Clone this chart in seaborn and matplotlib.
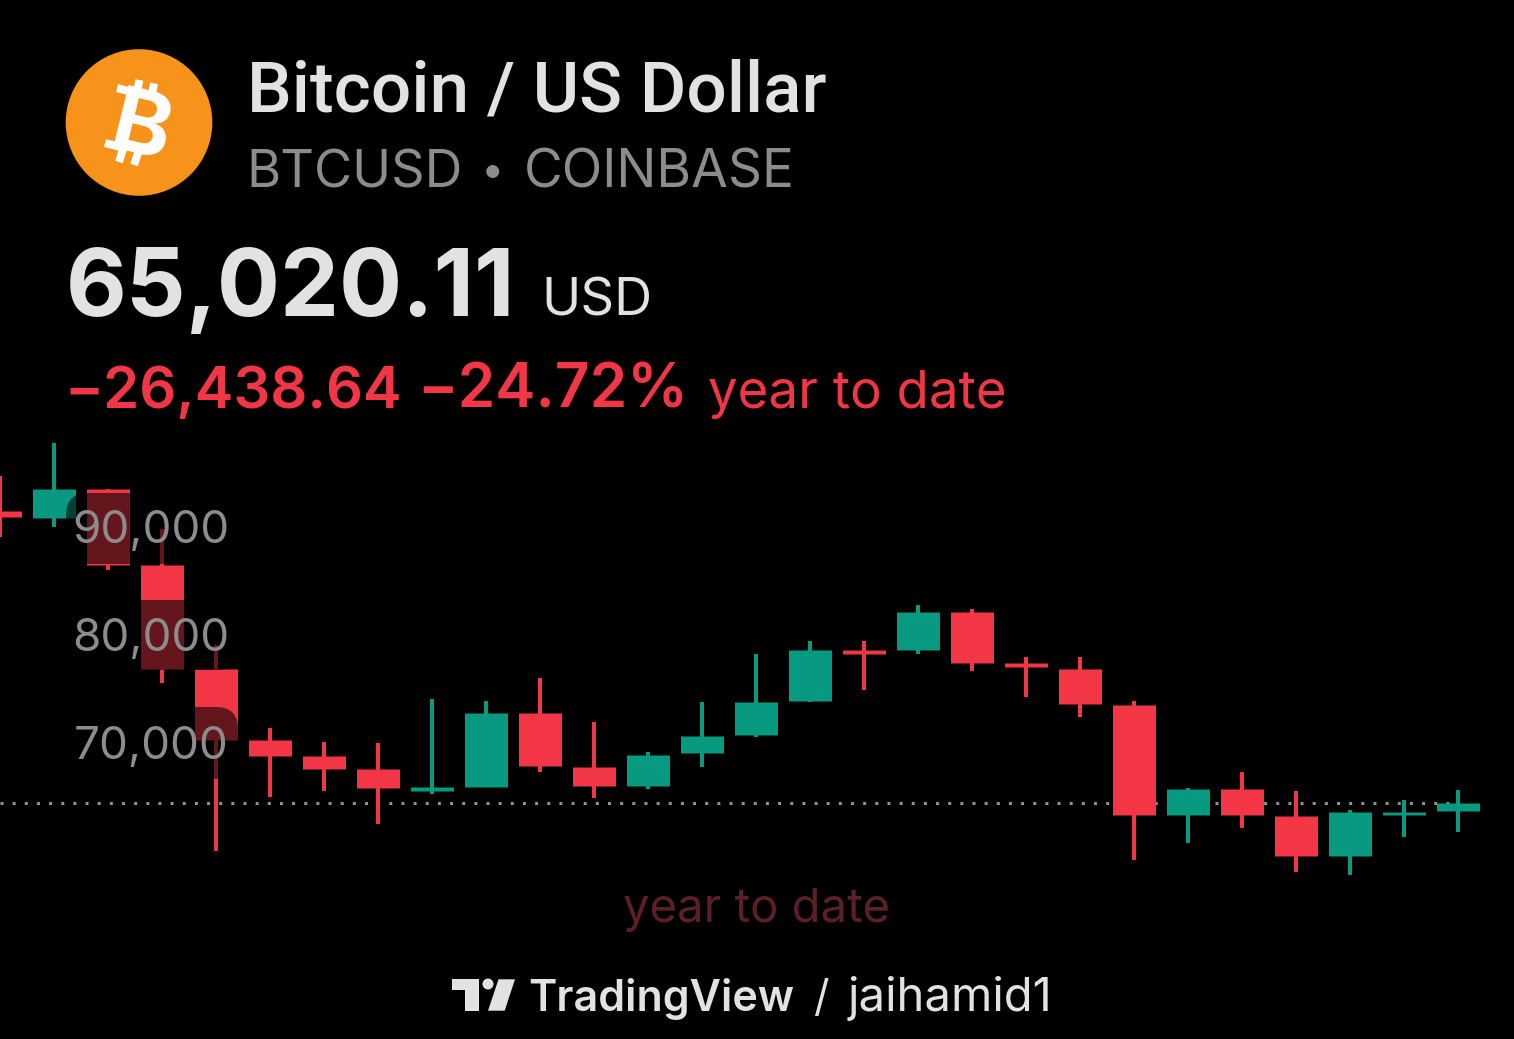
import matplotlib
matplotlib.use("Agg")
import matplotlib.pyplot as plt
from matplotlib.patches import Circle, FancyBboxPatch, Polygon
from matplotlib.transforms import ScaledTranslation
import numpy as np
import pandas as pd
import seaborn as sns

# Weekly BTCUSD candles
opens = [92060, 91410, 94090, 87060, 77430, 70850, 69370, 68170, 66130, 66500,
         73350, 68350, 66590, 69650, 71320, 74460, 79190, 79190, 82700, 77980,
         77430, 74090, 63910, 66320, 63820, 60110, 63910, 64280]
closes = [91500, 94090, 87060, 77430, 70850, 69370, 68170, 66410, 66500, 73350,
          68450, 66590, 69460, 71220, 74370, 79190, 78820, 82700, 77980, 77610,
          74190, 63910, 66320, 63910, 60110, 64190, 64190, 65020.11]
highs = [95300, 98350, 94090, 90390, 79650, 71960, 70670, 70580, 74650, 74460,
         76590, 72520, 69740, 74370, 78820, 80020, 80020, 83350, 82980, 78540,
         78540, 74460, 66410, 67890, 66130, 64370, 65300, 66220]
lows = [89650, 90575, 86590, 76130, 60580, 65580, 66130, 63080, 65850, 66500,
        67890, 65480, 66320, 68350, 71130, 74370, 75480, 78820, 77240, 74830,
        72980, 59740, 61320, 62710, 58630, 58350, 61870, 62340]
price_ticks = [70000, 80000, 90000]
last_price = 65020.11

UP = "#089981"
DOWN = "#f23645"
W, H = 1514, 1039
PX = 1 / 0.72  # pixels per point at 100 dpi

sns.set_theme(style="dark", rc={"axes.facecolor": "black", "figure.facecolor": "black"})
plt.rcParams["font.family"] = ["Inter", "DejaVu Sans"]

frame = pd.DataFrame({"open": opens, "close": closes, "high": highs, "low": lows})
frame["candle"] = frame.index
frame["side"] = np.where(frame["close"] >= frame["open"], "up", "down")
wicks = frame.melt(id_vars=["candle", "side"], value_vars=["high", "low"], value_name="price")
bodies = frame.melt(id_vars=["candle", "side"], value_vars=["open", "close"], value_name="price")
palette = {"up": UP, "down": DOWN}

fig = plt.figure(figsize=(W / 100, H / 100), dpi=100)
ax = fig.add_axes([0, 0, 1, 1])
page = fig.add_axes([0, 0, 1, 1], zorder=5)
page.set_xlim(0, W)
page.set_ylim(H, 0)
page.axis("off")
page.patch.set_alpha(0)

ax.hlines(last_price, 0, len(closes) - 1, color="#929292", lw=3 / PX,
          linestyle=(0, (1, 3.05)), zorder=1)
sns.lineplot(data=wicks, x="candle", y="price", hue="side", units="candle", estimator=None,
             palette=palette, linewidth=4 / PX, solid_capstyle="butt", legend=False,
             sort=False, ax=ax, zorder=2)
sns.lineplot(data=bodies, x="candle", y="price", hue="side", units="candle", estimator=None,
             palette=palette, linewidth=43 / PX, solid_capstyle="butt", legend=False,
             sort=False, ax=ax, zorder=2)

# Scales: one candle slot is 54 px, 10,000 USD is 108 px
per_px = 10000 / 108
ax.set_xlim(0, W / 54)
ax.set_ylim(last_price - (H - 803) * per_px, last_price + 803 * per_px)
ax.set(xlabel="", ylabel="", xticks=[])
ax.grid(False)
for s in ax.spines.values():
    s.set_visible(False)

# Dimming plates behind the price scale
for top, bottom in [(493, 564), (600, 670), (707, 779)]:
    ax.add_patch(FancyBboxPatch((66 + 22, top + 22), 172 - 44, bottom - top - 44,
                                boxstyle="round,pad=22,rounding_size=22",
                                fc="black", ec="none", alpha=0.58,
                                transform=page.transData, zorder=2.2))

ax.set_axisbelow(False)
ax.set_yticks(price_ticks, [f"{v:,}" for v in price_ticks])
ax.tick_params(axis="y", length=0, pad=-229 / PX, labelsize=33, labelcolor="#8c8c8c")
shift = ScaledTranslation(0, 7 / 100, fig.dpi_scale_trans)
for lab in ax.get_yticklabels():
    lab.set_transform(lab.get_transform() + shift)
    lab.set_horizontalalignment("right")

# Coin badge
page.add_patch(Circle((139, 122.5), 73.3, fc="#f7931a", ec="none"))
page.text(140, 132, "B", color="white", fontsize=64, fontweight="bold", rotation=-14,
          ha="center", va="center")
for (x0, y0), (x1, y1) in [((139.3, 80), (136.5, 96)), ((154, 83.3), (151, 99)),
                           ((124, 146), (119, 162)), ((139, 150), (134, 165)),
                           ((117, 88), (134, 92.5)), ((105, 143), (122, 147.5))]:
    page.plot([x0, x1], [y0, y1], color="white", lw=8 / PX, solid_capstyle="butt")

TXT = "#e2e2e2"
GREY = "#8c8c8c"
page.text(247, 112, "Bitcoin / US Dollar", color=TXT, fontsize=51.2, fontweight="medium",
          family="Roboto")
page.text(246, 187, "BTCUSD", color=GREY, fontsize=37.6)
page.text(493, 173, "•", color=GREY, fontsize=30, ha="center", va="center")
page.text(524, 187, "COINBASE", color=GREY, fontsize=38.3)
page.text(66, 316, "65,020.11", color=TXT, fontsize=67.5, fontweight="bold")
page.text(541, 316, "USD", color=TXT, fontsize=38)
page.text(64, 408, "\u221226,438.64", color=DOWN, fontsize=41.8, fontweight="semibold")
page.text(417, 408, "\u221224.72%", color=DOWN, fontsize=43.5, fontweight="semibold")
page.text(708, 408, "year to date", color=DOWN, fontsize=38)
page.text(757, 922, "year to date", color="#5c1f27", fontsize=34, ha="center")

# Attribution mark
page.add_patch(Polygon([(451.6, 979.3), (479, 979.3), (479, 1010.7), (465.3, 1010.7),
                        (465.3, 990), (451.6, 990)], fc=TXT, ec="none"))
page.add_patch(Circle((488, 984), 5.5, fc=TXT, ec="none"))
page.add_patch(Polygon([(515, 979.3), (498.5, 979.3), (488, 1010.7), (504.7, 1010.7)],
                       fc=TXT, ec="none"))
page.text(528, 1011, "TradingView", color=TXT, fontsize=31, fontweight="semibold")
page.text(813, 1011, "/", color=TXT, fontsize=31)
page.text(848, 1011, "jaihamid1", color=TXT, fontsize=34)

fig.savefig("out.png", dpi=100, facecolor="black")
